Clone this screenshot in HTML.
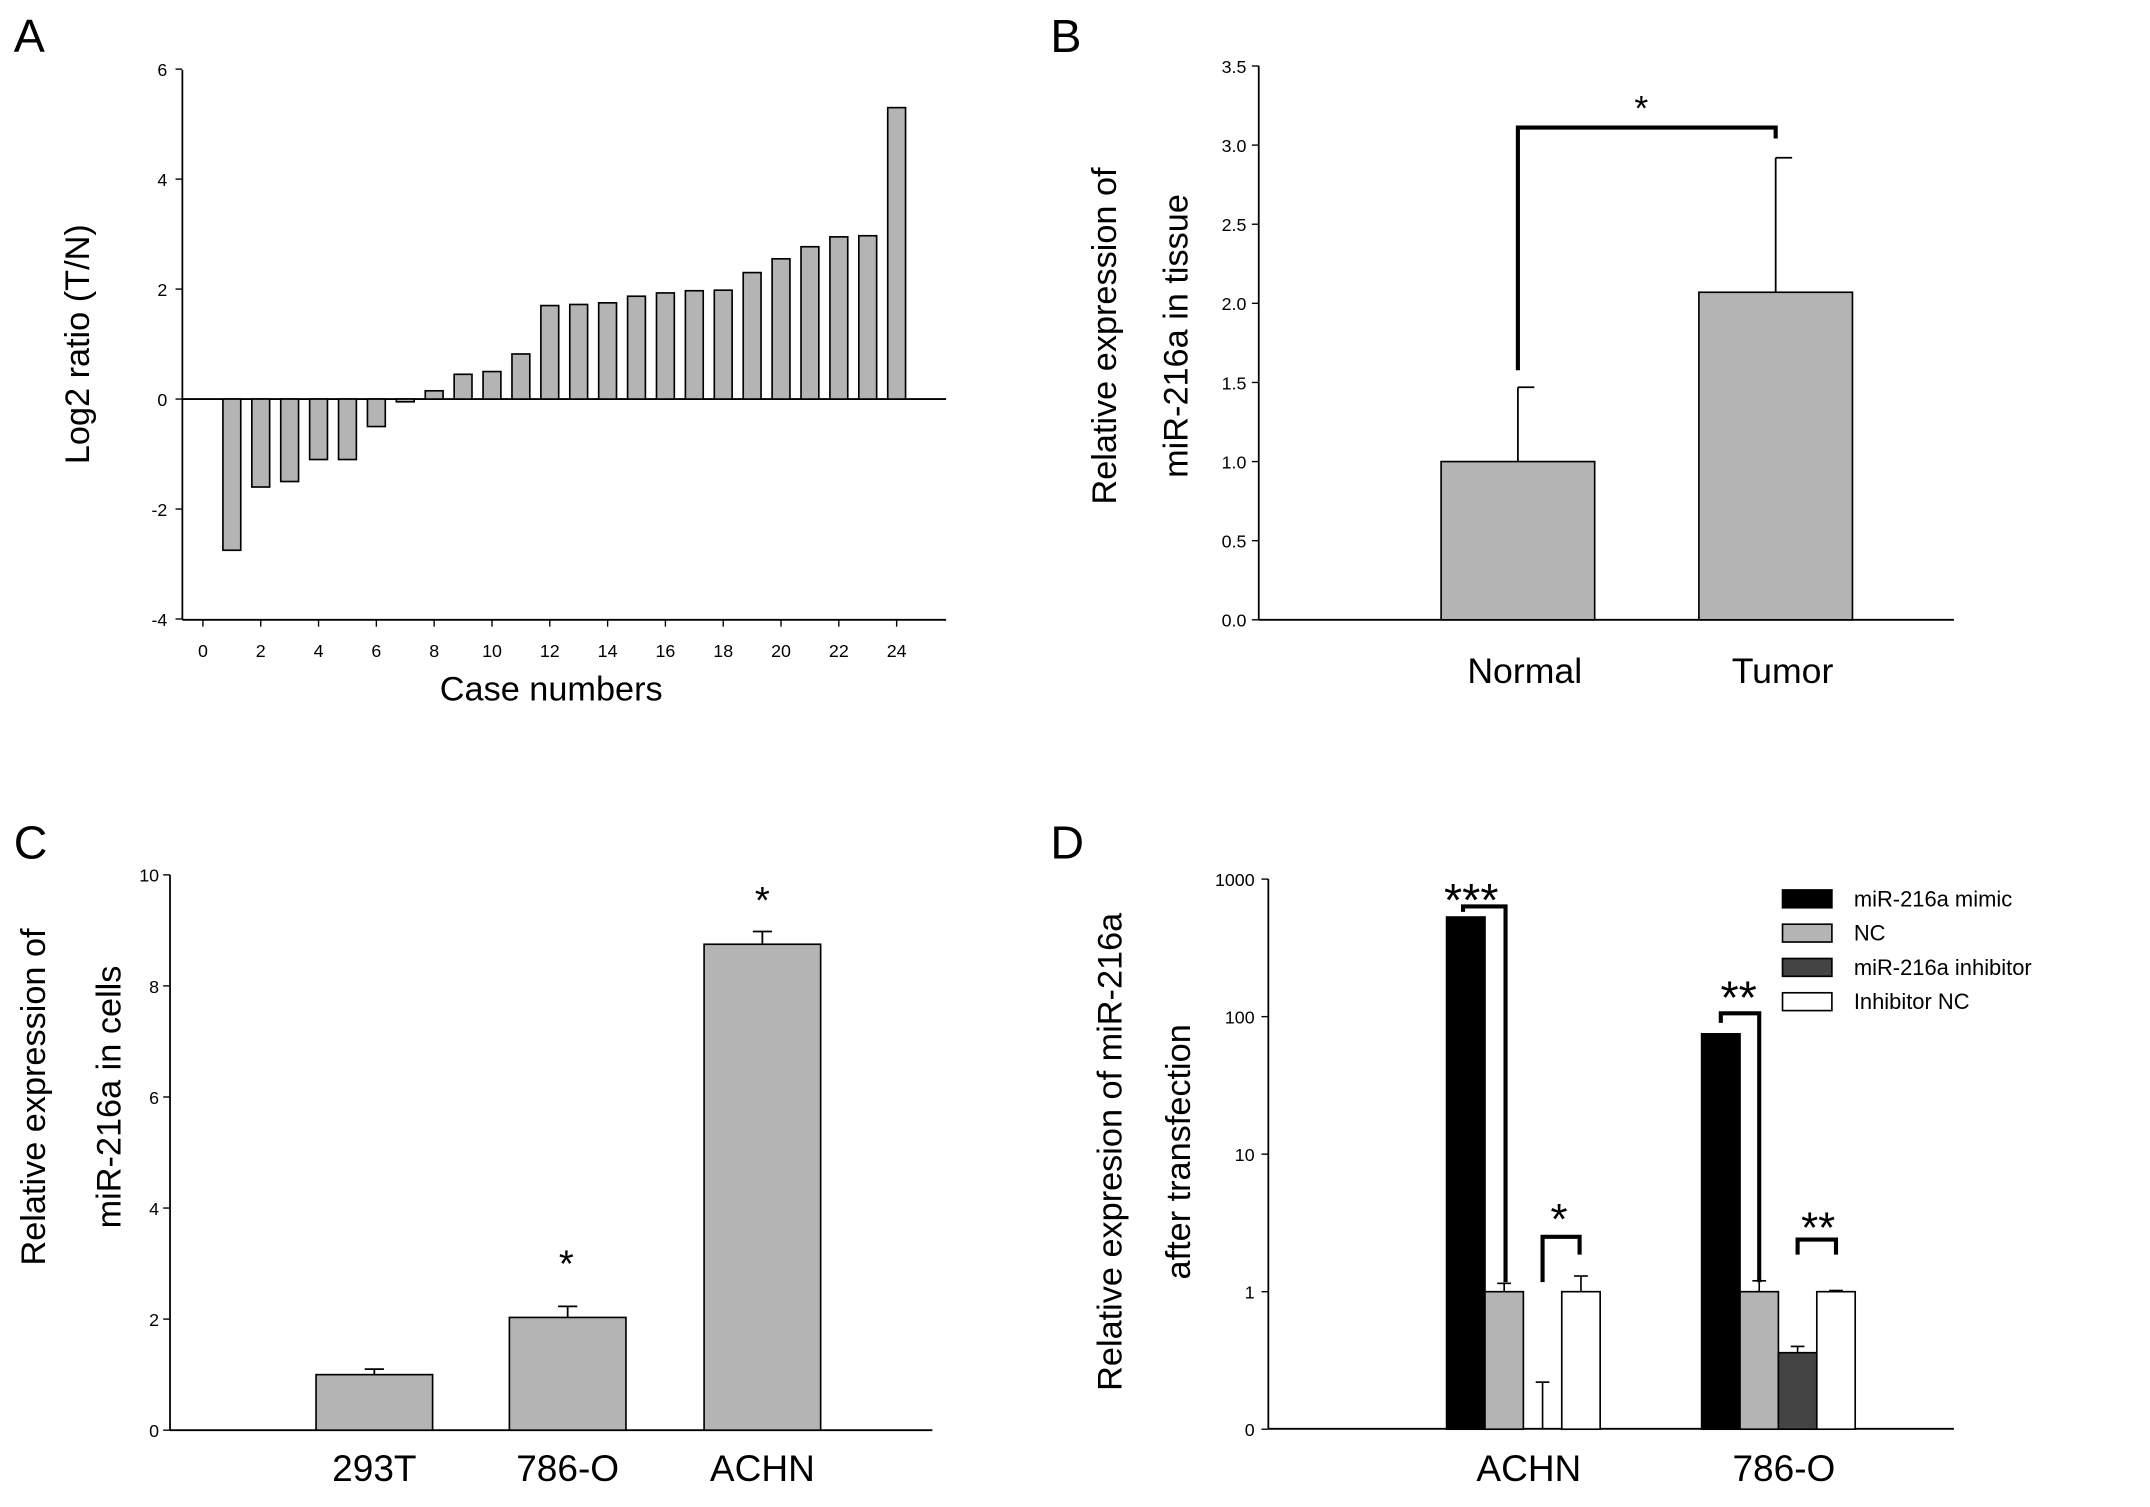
<!DOCTYPE html>
<html><head><meta charset="utf-8"><style>
html,body{margin:0;padding:0;background:#fff;}
svg{display:block;font-family:"Liberation Sans",sans-serif;}
</style></head><body>
<svg id="fig" width="2150" height="1507" viewBox="0 0 1568 1099" xmlns="http://www.w3.org/2000/svg">
<rect width="1568" height="1099" fill="#fff"/>
<text x="10" y="38" font-size="34">A</text>
<text x="766" y="38" font-size="34">B</text>
<text x="10" y="626" font-size="34">C</text>
<text x="766" y="626" font-size="34">D</text>
<g id="pa"></g>
<g id="pb"></g>
<g id="pc"></g>
<g id="pd"></g>
</svg>
<script>
// Panel A data
const aCases=[1,2,3,4,5,6,7,8,9,10,11,12,13,14,15,16,17,18,19,20,21,22,23,24];
const aValues=[-2.75,-1.6,-1.5,-1.1,-1.1,-0.5,-0.05,0.15,0.45,0.5,0.82,1.7,1.72,1.75,1.87,1.93,1.97,1.98,2.3,2.55,2.77,2.95,2.97,5.3];
const aYTicks=[-4,-2,0,2,4,6];
const aXTicks=[0,2,4,6,8,10,12,14,16,18,20,22,24];
// Panel B data
const bCats=["Normal","Tumor"];
const bValues=[1.0,2.07];
const bErrors=[0.47,0.85];
const bYTicks=["0.0","0.5","1.0","1.5","2.0","2.5","3.0","3.5"];
// Panel C data
const cCats=["293T","786-O","ACHN"];
const cValues=[1.0,2.03,8.75];
const cErrors=[0.1,0.2,0.23];
const cYTicks=[0,2,4,6,8,10];
// Panel D data
const dCats=["ACHN","786-O"];
const dSeries=["miR-216a mimic","NC","miR-216a inhibitor","Inhibitor NC"];
const dMimic=[530,75];
const dNC=[1,1];
const dInhib=[0.1,0.36];
const dInhNC=[1,1];
const dErrMimic=[0,0];
const dErrNC=[0.15,0.2];
const dErrInhib=[0.12,0.04];
const dErrInhNC=[0.3,0.02];
const dYTicks=[0.1,1,10,100,1000];
const dYLabels=["0","1","10","100","1000"];

const NS="http://www.w3.org/2000/svg";
function mk(p,t,a,txt){const e=document.createElementNS(NS,t);for(const k in a)e.setAttribute(k,a[k]);if(txt!==undefined)e.textContent=txt;p.appendChild(e);return e;}
function line(p,x1,y1,x2,y2,w,name){const e=mk(p,'line',{x1,y1,x2,y2,stroke:'#000','stroke-width':w||1.3});

return e;}
function txt(p,x,y,s,size,anchor,name,rot){const a={x,y,'font-size':size,'text-anchor':anchor||'middle'};if(rot)a.transform=`rotate(-90 ${x} ${y})`;const e=mk(p,'text',a,s);

return e;}
function rect(p,x,y,w,h,fill,name){const e=mk(p,'rect',{x,y,width:w,height:Math.max(h,0),fill,stroke:'#000','stroke-width':1.2});

return e;}

// ---- Panel A ----
(function(){const g=document.getElementById('pa');
const y=v=>291-v*40.1, x=v=>148+v*21.08;
line(g,133,51,133,452,1.3,'y-axis');
line(g,133,291,690,291,1.3,'zero-line');
line(g,133,452,690,452,1.3,'x-axis');
aYTicks.forEach(t=>{line(g,128,y(t),133,y(t),1,'y-tick');txt(g,122,y(t)+5,String(t),13,'end','y-tick-label');});
aXTicks.forEach(t=>{line(g,x(t),452,x(t),457,1,'x-tick');txt(g,x(t),479,String(t),13,'middle','x-tick-label');});
aCases.forEach((c,i)=>{const v=aValues[i];rect(g,x(c)-6.5,Math.min(y(v),y(0)),13,Math.abs(y(v)-y(0)),'#b4b4b4','bar-case-'+c);});
txt(g,402,511,'Case numbers',25,'middle','x-axis-title');
txt(g,65,251,'Log2 ratio (T/N)',25,'middle','y-axis-title',true);
})();

// ---- Panel B ----
(function(){const g=document.getElementById('pb');
const y=v=>452-v*115.4; const cx=[1107,1295];
line(g,918,48,918,452,1.3,'y-axis');line(g,918,452,1425,452,1.3,'x-axis');
bYTicks.forEach(t=>{const v=parseFloat(t);line(g,913,y(v),918,y(v),1,'y-tick');txt(g,909,y(v)+5,t,13,'end','y-tick-label');});
bCats.forEach((c,i)=>{rect(g,cx[i]-56,y(bValues[i]),112,y(0)-y(bValues[i]),'#b4b4b4','bar-'+c.toLowerCase());
line(g,cx[i],y(bValues[i]),cx[i],y(bValues[i]+bErrors[i]),1.3,'error-bar');line(g,cx[i],y(bValues[i]+bErrors[i]),cx[i]+12,y(bValues[i]+bErrors[i]),1.3,'error-cap');
txt(g,cx[i]+5,498,c,26,'middle','x-label-'+c.toLowerCase());});
const pa=mk(g,'path',{d:`M${cx[0]} 270 V93 H${cx[1]} V101`,fill:'none',stroke:'#000','stroke-width':3});


txt(g,1197,88,'*',26,'middle','significance-star');
txt(g,814,245,'Relative expression of',25,'middle','y-axis-title-line1',true);
txt(g,866,245,'miR-216a in tissue',25,'middle','y-axis-title-line2',true);
})();

// ---- Panel C ----
(function(){const g=document.getElementById('pc');
const y=v=>1043-v*40.5; const cx=[273,414,556];
line(g,124,638,124,1043,1.3,'y-axis');line(g,124,1043,680,1043,1.3,'x-axis');
cYTicks.forEach(t=>{line(g,119,y(t),124,y(t),1,'y-tick');txt(g,116,y(t)+5,String(t),13,'end','y-tick-label');});
cCats.forEach((c,i)=>{rect(g,cx[i]-42.5,y(cValues[i]),85,y(0)-y(cValues[i]),'#b4b4b4','bar-'+c.toLowerCase());
const top=y(cValues[i]+cErrors[i]);line(g,cx[i],y(cValues[i]),cx[i],top,1.3,'error-bar');line(g,cx[i]-7,top,cx[i]+7,top,1.3,'error-cap');
txt(g,cx[i],1080,c,27,'middle','x-label-'+c.toLowerCase());});
txt(g,413,931,'*',28,'middle','significance-star-786o');
txt(g,556,666,'*',28,'middle','significance-star-achn');
txt(g,33,800,'Relative expression of',25,'middle','y-axis-title-line1',true);
txt(g,88,800,'miR-216a in cells',25,'middle','y-axis-title-line2',true);
})();

// ---- Panel D ----
(function(){const g=document.getElementById('pd');
const y=v=>942-Math.log10(v)*100.3; const base=y(0.1);
line(g,925,641,925,1042,1.3,'y-axis');line(g,925,1042,1425,1042,1.3,'x-axis');
dYTicks.forEach((t,i)=>{line(g,920,y(t),925,y(t),1,'y-tick');txt(g,915,y(t)+5,dYLabels[i],13,'end','y-tick-label');});
const starts=[1055,1241];const fills=['#000','#b4b4b4','#444','#fff'];
const vals=[dMimic,dNC,dInhib,dInhNC];const errs=[dErrMimic,dErrNC,dErrInhib,dErrInhNC];
dCats.forEach((c,ci)=>{vals.forEach((s,si)=>{const x0=starts[ci]+si*28;const v=s[ci];
if(v>0.1)rect(g,x0,y(v),28,base-y(v),fills[si],'bar-'+c.toLowerCase()+'-'+si);
const e=errs[si][ci];if(e>0){const cx=x0+14;const top=y(v+e);line(g,cx,Math.min(y(v),base),cx,top,1.2,'error-bar');line(g,cx-5,top,cx+5,top,1.2,'error-cap');}});
txt(g,starts[ci]+60,1080,c,27,'middle','x-label-'+c.toLowerCase());});
function br(d,name){const p=mk(g,'path',{d,fill:'none',stroke:'#000','stroke-width':3});

}
br('M1067 665 V661 H1098 V935','bracket-achn-mimic');
br('M1125 935 V902 H1152 V915','bracket-achn-inhibitor');
br('M1255 746 V739 H1283 V935','bracket-786o-mimic');
br('M1311 915 V904 H1339 V915','bracket-786o-inhibitor');
txt(g,1073,668,'***',34,'middle','stars-achn-mimic');
txt(g,1137,900,'*',32,'middle','star-achn-inhibitor');
txt(g,1268,739,'**',34,'middle','stars-786o-mimic');
txt(g,1326,906,'**',32,'middle','stars-786o-inhibitor');
dSeries.forEach((s,i)=>{const ly=649+i*25;rect(g,1300,ly,36,13,fills[i],'legend-swatch-'+i);txt(g,1352,ly+12,s,16,'start','legend-entry-'+i);});
txt(g,818,840,'Relative expresion of miR-216a',25,'middle','y-axis-title-line1',true);
txt(g,868,840,'after transfection',25,'middle','y-axis-title-line2',true);
})();
</script>
</body></html>
